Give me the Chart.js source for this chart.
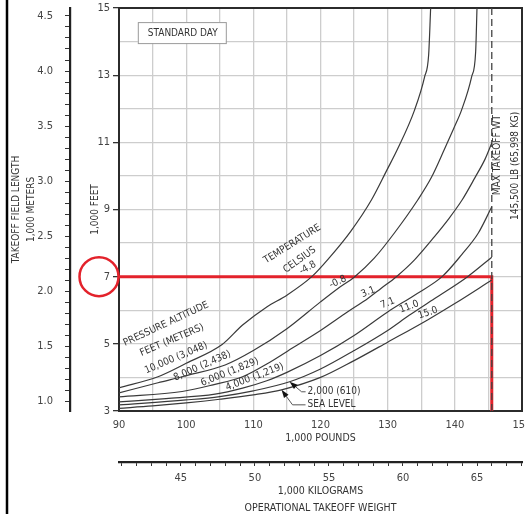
<!DOCTYPE html>
<html>
<head>
<meta charset="utf-8">
<script src="https://cdn.jsdelivr.net/npm/chart.js@4.4.1/dist/chart.umd.min.js"></script>
<style>
  html, body { margin: 0; padding: 0; background: #fff; }
  canvas { display: block; }
</style>
</head>
<body>
<canvas id="takeoff" width="525" height="514"></canvas>
<script>
const LB_PER_KG = 2.20462;
const FT_PER_M = 3.28084;

// weight in 1,000 lb, field length in 1,000 ft
const alt10000Lb = [90, 95.8, 100, 105.3, 108.4, 112, 115, 118.7, 121.3, 124.5, 127.6, 129.9, 131.4, 134, 135.5, 136.1, 136.4];
const alt10000Ft = [3.69, 4.02, 4.42, 4.97, 5.56, 6.1, 6.45, 7.0, 7.56, 8.35, 9.29, 10.18, 10.77, 11.96, 12.95, 13.6, 15];

const alt8000Lb = [90, 95.8, 100, 105.8, 110, 115, 120, 122.6, 125.1, 128, 131, 134.5, 136.5, 138.4, 139.8, 141, 142.5, 143.1, 143.3];
const alt8000Ft = [3.54, 3.84, 4.05, 4.37, 4.8, 5.45, 6.25, 6.65, 7.0, 7.55, 8.3, 9.29, 9.95, 10.77, 11.4, 11.96, 12.95, 13.7, 15];

const alt6000Lb = [90, 99.4, 104, 108.4, 112, 116, 120, 124, 127.1, 129, 131.3, 134, 137, 139, 141.1, 143, 144.5, 145.5];
const alt6000Ft = [3.42, 3.58, 3.78, 4.02, 4.4, 4.9, 5.4, 5.95, 6.36, 6.65, 7.0, 7.5, 8.2, 8.7, 9.29, 9.95, 10.5, 10.98];

const alt4000Lb = [90, 97, 104.3, 108.4, 112, 115, 120, 125, 130, 134, 138.1, 141, 143.5, 145.5];
const alt4000Ft = [3.27, 3.37, 3.5, 3.68, 3.9, 4.15, 4.65, 5.25, 5.95, 6.45, 7.0, 7.65, 8.3, 9.08];

const alt2000Lb = [90, 100, 105, 110, 115.4, 120, 125, 130, 133.2, 137, 141.9, 145.5];
const alt2000Ft = [3.18, 3.33, 3.43, 3.6, 3.87, 4.25, 4.8, 5.4, 5.85, 6.35, 7.0, 7.58];

const seaLevelLb = [90, 95, 100, 105, 110, 114.2, 120, 125, 130, 136, 140, 145.5];
const seaLevelFt = [3.08, 3.15, 3.24, 3.35, 3.48, 3.63, 4.0, 4.5, 5.05, 5.72, 6.2, 6.9];

const maxTakeoffLb = 145.5;
const exampleFieldFt = 7;

const FONT = "'Liberation Sans Narrow', 'DejaVu Sans Condensed', sans-serif";
const INK = '#3a3a3a';
const RED = '#e3222b';

function pts(xs, ys) {
  return xs.map((v, i) => ({x: v, y: ys[i]}));
}

function curve(xs, ys) {
  return {
    data: pts(xs, ys),
    borderColor: INK,
    borderWidth: 1.2,
    pointRadius: 0,
    cubicInterpolationMode: 'monotone',
    fill: false
  };
}

function drawText(ctx, text, x, y, deg, size, align) {
  ctx.save();
  ctx.translate(x, y);
  ctx.rotate(deg * Math.PI / 180);
  ctx.font = size + 'px ' + FONT;
  ctx.fillStyle = '#333';
  ctx.textAlign = align || 'center';
  ctx.textBaseline = 'middle';
  ctx.fillText(text, 0, 0);
  ctx.restore();
}

const extras = {
  id: 'extras',
  beforeDatasetsDraw(chart) {
    const {ctx, chartArea: a} = chart;
    ctx.save();
    ctx.strokeStyle = '#2b2b2b';
    ctx.lineWidth = 2;
    ctx.strokeRect(a.left, a.top, a.right - a.left, a.bottom - a.top);
    // page edge
    ctx.beginPath();
    ctx.strokeStyle = '#000';
    ctx.lineWidth = 2.5;
    ctx.moveTo(7, 0);
    ctx.lineTo(7, chart.height);
    ctx.stroke();
    ctx.restore();
  },
  afterDatasetsDraw(chart) {
    const {ctx, scales: {x, y}} = chart;
    const P = (a, b) => [x.getPixelForValue(a), y.getPixelForValue(b)];

    // standard day box
    const [bx, by] = P(92.8, 14.58);
    ctx.save();
    ctx.fillStyle = '#fff';
    ctx.strokeStyle = '#9a9a9a';
    ctx.lineWidth = 1;
    ctx.fillRect(bx, by, 88, 21);
    ctx.strokeRect(bx + 0.5, by + 0.5, 88, 21);
    ctx.restore();
    drawText(ctx, 'STANDARD DAY', bx + 10, by + 11, 0, 10, 'left');

    const labels = [
      ['PRESSURE ALTITUDE', 97.0, 5.59, -25],
      ['FEET (METERS)', 97.9, 5.11, -23],
      ['10,000 (3,048)', 98.5, 4.58, -23],
      ['8,000 (2,438)', 102.4, 4.34, -24],
      ['6,000 (1,829)', 106.5, 4.16, -22],
      ['4,000 (1,219)', 110.2, 4.01, -21],
      ['TEMPERATURE', 115.8, 7.97, -32],
      ['CELSIUS', 116.9, 7.5, -36],
      ['-4.8', 118.1, 7.26, -30],
      ['-0.8', 122.6, 6.84, -25],
      ['3.1', 127.1, 6.54, -22],
      ['7.1', 130.0, 6.21, -22],
      ['11.0', 133.2, 6.1, -20],
      ['15.0', 136.0, 5.92, -18]
    ];
    labels.forEach(([t, a, b, r]) => {
      const [px, py] = P(a, b);
      drawText(ctx, t, px, py, r, 10);
    });

    // arrows with leaders
    const arrows = [
      {text: '2,000 (610)', at: [115.4, 3.87], corner: [12, 10], run: 4},
      {text: 'SEA LEVEL', at: [114.2, 3.63], corner: [11, 15], run: 13}
    ];
    arrows.forEach(a => {
      const [tx, ty] = P(a.at[0], a.at[1]);
      const cx = tx + a.corner[0], cy = ty + a.corner[1];
      const len = Math.hypot(a.corner[0], a.corner[1]);
      const dx = -a.corner[0] / len, dy = -a.corner[1] / len;
      const bxx = tx - dx * 8, byy = ty - dy * 8;
      ctx.save();
      ctx.strokeStyle = '#555';
      ctx.lineWidth = 1;
      ctx.beginPath();
      ctx.moveTo(bxx, byy);
      ctx.lineTo(cx, cy);
      ctx.lineTo(cx + a.run, cy);
      ctx.stroke();
      ctx.fillStyle = '#111';
      ctx.beginPath();
      ctx.moveTo(tx, ty);
      ctx.lineTo(bxx - dy * 2.8, byy + dx * 2.8);
      ctx.lineTo(bxx + dy * 2.8, byy - dx * 2.8);
      ctx.closePath();
      ctx.fill();
      ctx.restore();
      drawText(ctx, a.text, cx + a.run + 2, cy, 0, 10, 'left');
    });

    // max takeoff weight note
    let [mx, my] = P(146.4, 10.62);
    drawText(ctx, 'MAX TAKEOFF WT', mx, my, -90, 10);
    [mx, my] = P(148.95, 10.3);
    drawText(ctx, '145,500 LB (65,998 KG)', mx, my, -90, 10);
  },
  afterDraw(chart) {
    const {ctx, scales: {y}} = chart;
    ctx.save();
    ctx.strokeStyle = RED;
    ctx.lineWidth = 2.5;
    ctx.beginPath();
    ctx.arc(y.left + 29, y.getPixelForValue(exampleFieldFt), 19.5, 0, Math.PI * 2);
    ctx.stroke();
    ctx.restore();
  }
};

const tickFont = {family: FONT, size: 11};
const titleFont = {family: FONT, size: 10.5};

new Chart(document.getElementById('takeoff'), {
  type: 'line',
  data: {
    datasets: [
      curve(alt10000Lb, alt10000Ft),
      curve(alt8000Lb, alt8000Ft),
      curve(alt6000Lb, alt6000Ft),
      curve(alt4000Lb, alt4000Ft),
      curve(alt2000Lb, alt2000Ft),
      curve(seaLevelLb, seaLevelFt),
      {
        data: [{x: maxTakeoffLb, y: 15}, {x: maxTakeoffLb, y: 3}],
        borderColor: '#444',
        borderWidth: 1.3,
        borderDash: [7, 4],
        pointRadius: 0
      },
      {
        data: [{x: 90, y: exampleFieldFt}, {x: maxTakeoffLb, y: exampleFieldFt}, {x: maxTakeoffLb, y: 3}],
        borderColor: RED,
        borderWidth: 3,
        pointRadius: 0,
        tension: 0
      }
    ]
  },
  options: {
    responsive: false,
    animation: false,
    events: [],
    layout: {padding: {top: 8, right: 3, left: 0, bottom: 0}},
    plugins: {legend: {display: false}, tooltip: {enabled: false}},
    scales: {
      x: {
        type: 'linear', position: 'bottom', weight: 0,
        min: 90, max: 150,
        ticks: {stepSize: 5, autoSkip: false, maxRotation: 0, padding: 8, font: tickFont, color: '#444',
          callback: v => (v % 10 === 0 ? v : '')},
        grid: {color: '#cdcdcd', lineWidth: 1.3, drawTicks: false},
        border: {color: '#2b2b2b', width: 2},
        title: {display: true, text: '1,000 POUNDS', font: titleFont, color: '#333', padding: {top: 0, bottom: 17}},
        afterFit(s) { s.height = 51; s.paddingLeft = 0; s.paddingRight = 0; }
      },
      xK: {
        type: 'linear', position: 'bottom', weight: 1,
        min: 90 / LB_PER_KG, max: 150 / LB_PER_KG,
        ticks: {stepSize: 1, includeBounds: false, autoSkip: false, maxRotation: 0, padding: 6, font: tickFont, color: '#444',
          callback: v => (Math.round(v) % 5 === 0 ? Math.round(v) : '')},
        grid: {drawOnChartArea: false, tickLength: 4, color: '#333', lineWidth: 1},
        border: {color: '#222', width: 2.2},
        title: {display: true, text: ['1,000 KILOGRAMS', 'OPERATIONAL TAKEOFF WEIGHT'], font: {family: FONT, size: 10.5, lineHeight: 1.55}, color: '#333', padding: {top: 0, bottom: -2}},
        afterFit(s) { s.height = 52; s.paddingLeft = 0; s.paddingRight = 0; }
      },
      y: {
        type: 'linear', position: 'left', weight: 0,
        min: 3, max: 15,
        ticks: {stepSize: 1, autoSkip: false, padding: 3, font: tickFont, color: '#444',
          callback: v => (v % 2 === 1 ? v : '')},
        grid: {color: '#cdcdcd', lineWidth: 1.3, tickLength: 6,
          tickColor: c => (c.tick && c.tick.value % 2 === 1 ? '#333' : 'rgba(0,0,0,0)')},
        border: {color: '#2b2b2b', width: 2},
        title: {display: true, text: '1,000 FEET', font: {family: FONT, size: 10}, color: '#333', padding: {top: 19, bottom: 0}},
        afterFit(s) { s.width = 49; s.paddingTop = 0; s.paddingBottom = 0; }
      },
      yM: {
        type: 'linear', position: 'left', weight: 1,
        min: 3 / FT_PER_M, max: 15 / FT_PER_M,
        ticks: {stepSize: 0.1, includeBounds: false, autoSkip: false, padding: 12, font: tickFont, color: '#444',
          callback: v => (Math.abs(v * 2 - Math.round(v * 2)) < 1e-6 ? v.toFixed(1) : '')},
        grid: {drawOnChartArea: false, tickLength: 5, color: '#333', lineWidth: 1},
        border: {color: '#222', width: 2.2},
        title: {display: true, text: ['TAKEOFF FIELD LENGTH', '1,000 METERS'], font: {family: FONT, size: 10, lineHeight: 1.5}, color: '#333', padding: {top: 8.5, bottom: 0}},
        afterFit(s) { s.width = 70; s.paddingTop = 0; s.paddingBottom = 0; }
      }
    }
  },
  plugins: [extras]
});
</script>
</body>
</html>
